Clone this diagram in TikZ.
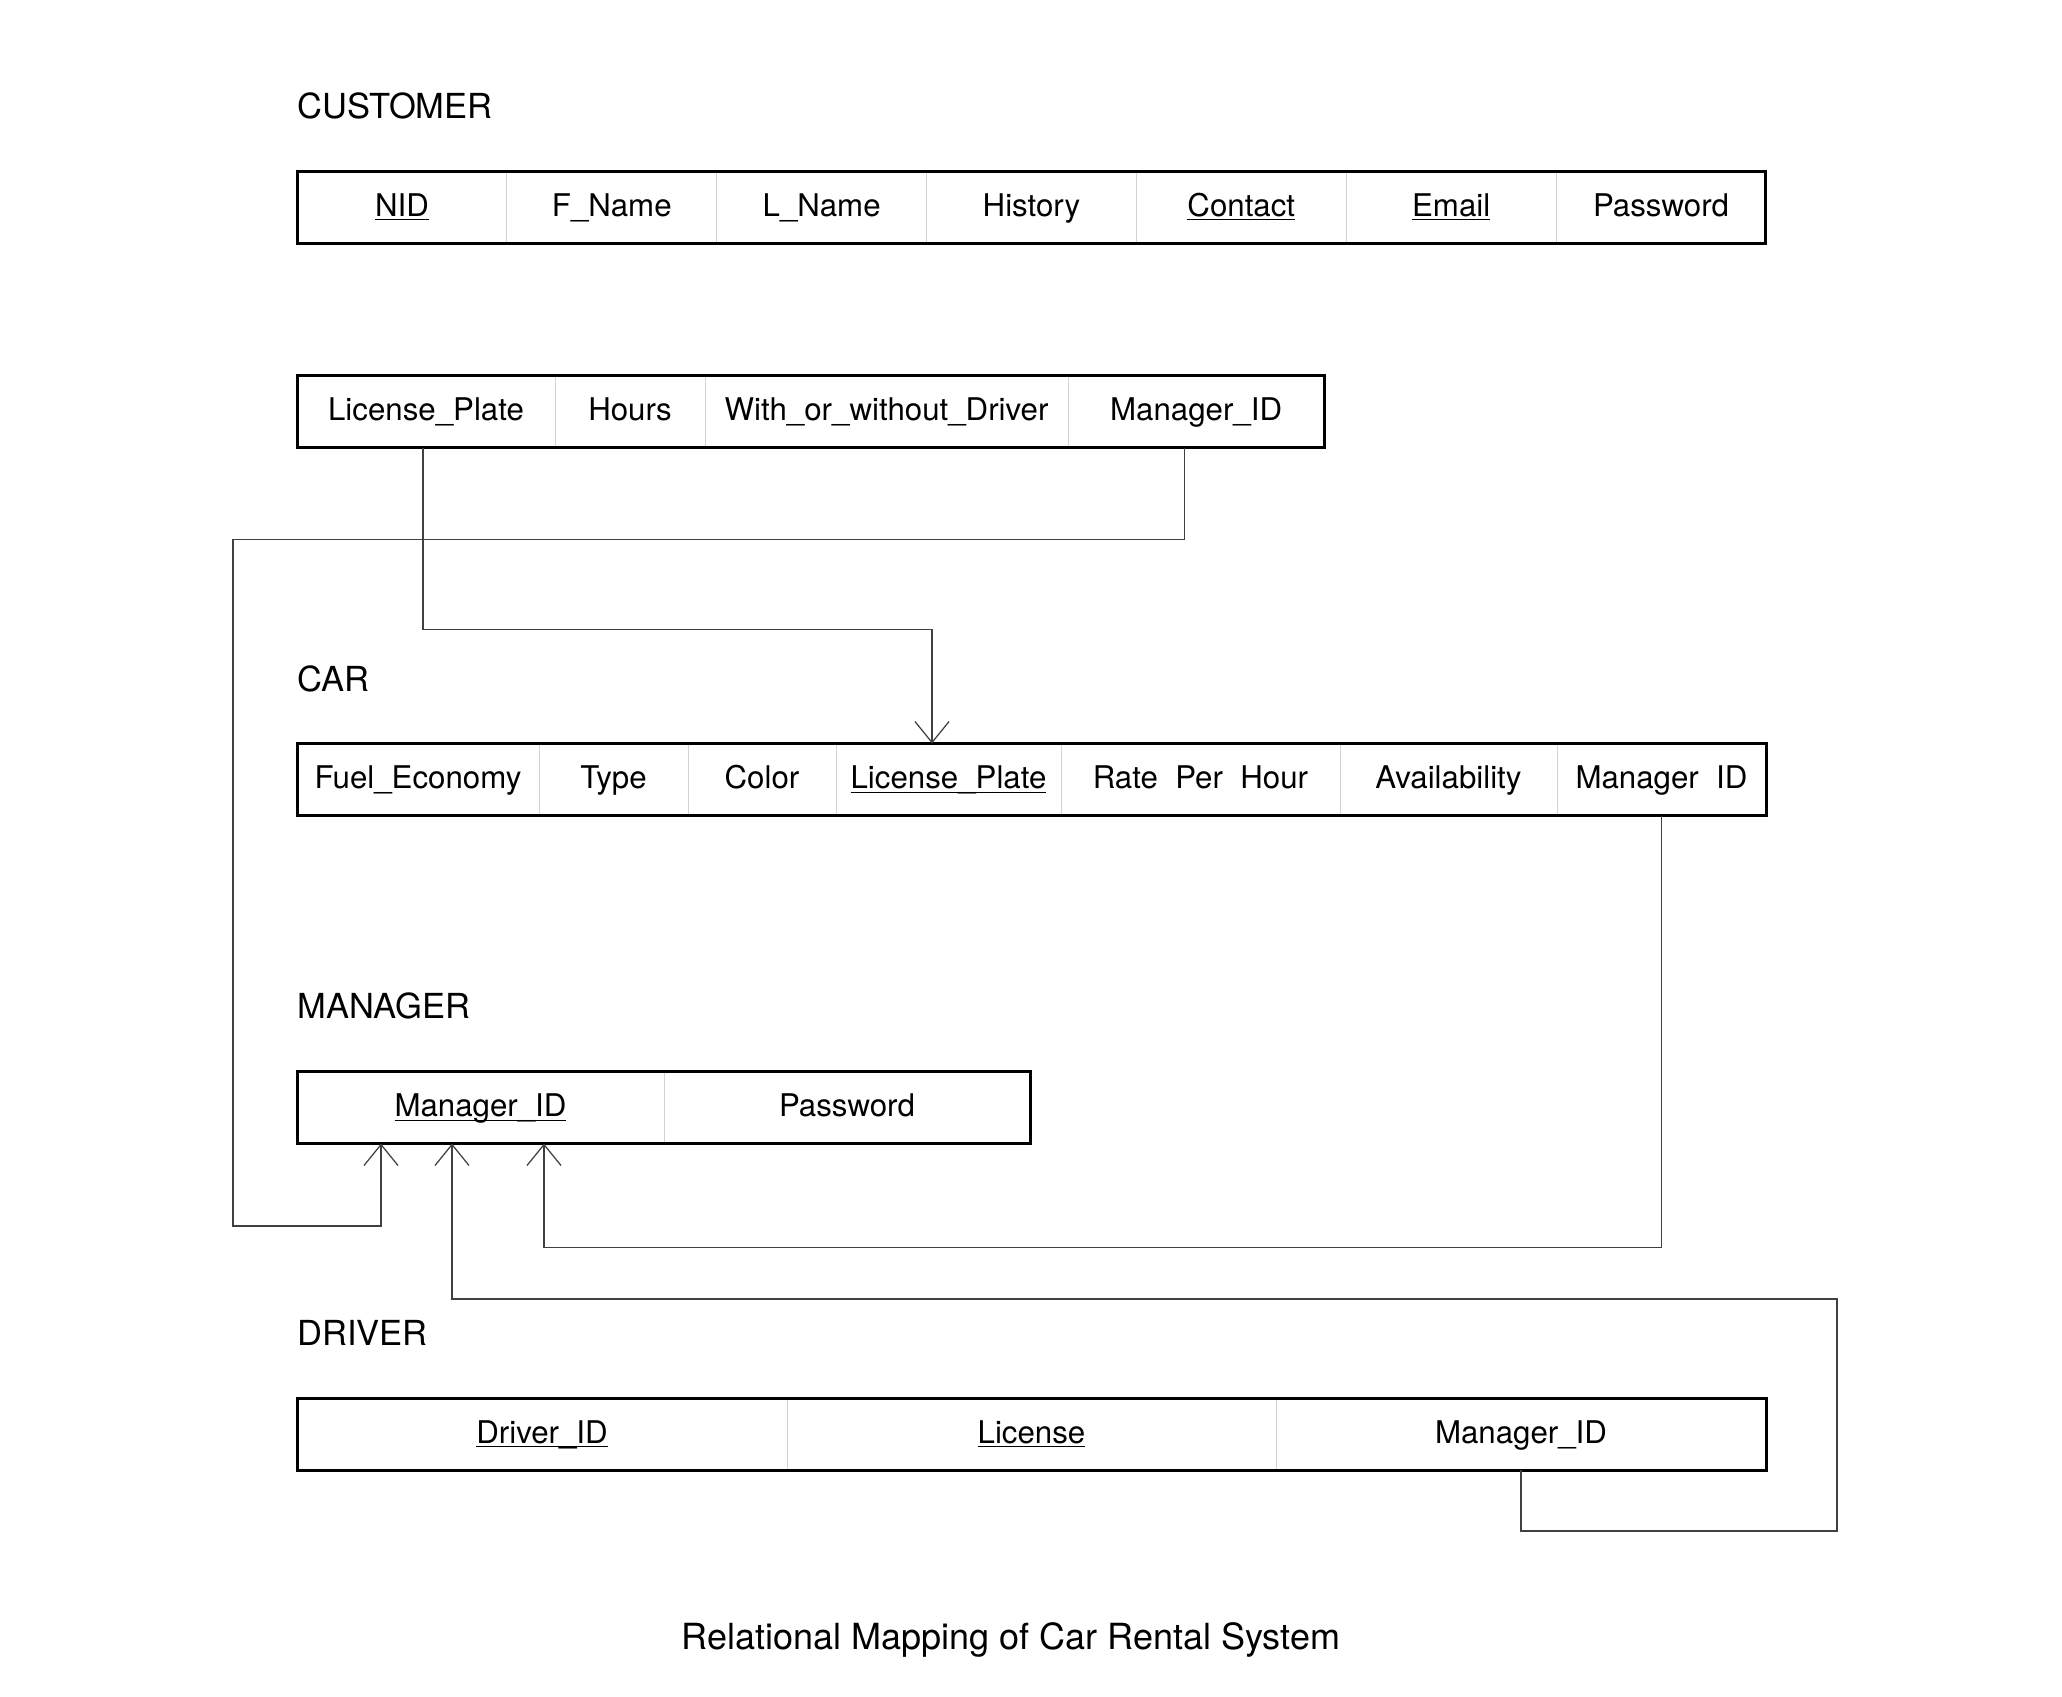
\documentclass[tikz,border=0pt]{standalone}
\usepackage{fontspec}
\setmainfont{TeX Gyre Heros}
\usetikzlibrary{arrows.meta}
\usetikzlibrary{positioning}

\newcommand{\pkey}[1]{\underline{\smash{#1}}}
\newcommand{\gap}{\phantom{\_}}

\begin{document}
\begin{tikzpicture}[x=1pt, y=-1pt,
		cell/.style={draw=gray!35, line width=0.4pt, minimum height=28.8pt, inner sep=0pt, outer sep=0pt, text height=7.2pt, text depth=0pt, font=\fontsize{12.5}{15}\selectfont},
		tableframe/.style={line width=1.2pt},
		relname/.style={anchor=west, inner sep=0pt, font=\fontsize{13.8}{16}\selectfont},
		fkline/.style={draw=black!75, line width=0.5pt},
		fkarrow/.style={fkline, -{Straight Barb[length=8.4pt, width=13.6pt]}}]
		\useasboundingbox (0,0) rectangle (824.8,678.4);
		% CUSTOMER
		\node[relname] (customer) at (118.8,42.4) {CUSTOMER};
		\node[cell, minimum width=83.94pt, anchor=west] (nid) at (118.8,82.8) {\pkey{NID}};
		\node[cell, minimum width=83.94pt, right=0pt of nid] (fname) {F\_Name};
		\node[cell, minimum width=83.94pt, right=0pt of fname] (lname) {L\_Name};
		\node[cell, minimum width=83.94pt, right=0pt of lname] (history) {History};
		\node[cell, minimum width=83.94pt, right=0pt of history] (contact) {\pkey{Contact}};
		\node[cell, minimum width=83.94pt, right=0pt of contact] (email) {\pkey{Email}};
		\node[cell, minimum width=83.94pt, right=0pt of email] (cpass) {Password};
		\draw[tableframe] (nid.north west) rectangle (cpass.south east);
		% rental
		\node[cell, minimum width=103.2pt, anchor=west] (rplate) at (118.8,164.6) {License\_Plate};
		\node[cell, minimum width=60pt, right=0pt of rplate] (rhours) {Hours};
		\node[cell, minimum width=145.2pt, right=0pt of rhours] (rdriver) {With\_or\_without\_Driver};
		\node[cell, minimum width=102.5pt, right=0pt of rdriver] (rmid) {Manager\_ID};
		\draw[tableframe] (rplate.north west) rectangle (rmid.south east);
		% CAR
		\node[relname] (car) at (118.8,271.6) {CAR};
		\node[cell, minimum width=96.8pt, anchor=west] (fuel) at (118.8,311.8) {Fuel\_Economy};
		\node[cell, minimum width=59.6pt, right=0pt of fuel] (type) {Type};
		\node[cell, minimum width=59.2pt, right=0pt of type] (color) {Color};
		\node[cell, minimum width=90pt, right=0pt of color] (cplate) {\pkey{License\_Plate}};
		\node[cell, minimum width=111.6pt, right=0pt of cplate] (rate) {Rate\gap Per\gap Hour};
		\node[cell, minimum width=86.8pt, right=0pt of rate] (avail) {Availability};
		\node[cell, minimum width=83.6pt, right=0pt of avail] (cmid) {Manager\gap ID};
		\draw[tableframe] (fuel.north west) rectangle (cmid.south east);
		% MANAGER
		\node[relname] (manager) at (118.8,402.4) {MANAGER};
		\node[cell, minimum width=146.8pt, anchor=west] (mid) at (118.8,443) {\pkey{Manager\_ID}};
		\node[cell, minimum width=146.4pt, right=0pt of mid] (mpass) {Password};
		\draw[tableframe] (mid.north west) rectangle (mpass.south east);
		% DRIVER
		\node[relname] (driver) at (118.8,533.2) {DRIVER};
		\node[cell, minimum width=196pt, anchor=west] (did) at (118.8,573.6) {\pkey{Driver\_ID}};
		\node[cell, minimum width=195.6pt, right=0pt of did] (license) {\pkey{License}};
		\node[cell, minimum width=196pt, right=0pt of license] (dmid) {Manager\_ID};
		\draw[tableframe] (did.north west) rectangle (dmid.south east);
		% foreign keys
		\draw[fkarrow] ([xshift=-1.2pt]rplate.south) -- ++(0,72.8) -| ([xshift=-6.6pt]cplate.north);
		\draw[fkarrow] ([xshift=-4.8pt]rmid.south) -- ++(0,36.8) -| (93.2,490.4) -| ([xshift=-39.8pt]mid.south);
		\draw[fkarrow] (cmid.south) -- ++(0,172.8) -| ([xshift=25.4pt]mid.south);
		\draw[fkarrow] (dmid.south) -- ++(0,24.4) -| (734.8,519.6) -| ([xshift=-11.4pt]mid.south);
		% caption
		\node[font=\fontsize{14.4}{17}\selectfont] (caption) at (404.4,656) {Relational Mapping of Car Rental System};
		\end{tikzpicture}
\end{document}
